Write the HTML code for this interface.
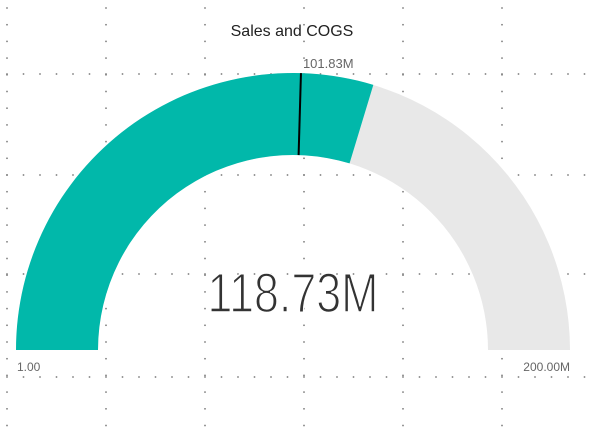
<!DOCTYPE html>
<html><head><meta charset="utf-8"><style>
html,body{margin:0;padding:0;background:#fff;}
svg{display:block;font-family:"Liberation Sans",sans-serif;}
</style></head><body>
<svg id="chart" width="591" height="430">
<g id="grid"></g>
<text x="292" y="36" text-anchor="middle" font-size="16" fill="#222">Sales and COGS</text>
<g id="gauge"></g>
</svg>
<script>
const minValue = [1];
const maxValue = [200000000];
const actualValue = [118730000];
const targetValue = [101830000];
const labels = ["1.00", "200.00M", "101.83M", "118.73M"];

const NS = "http://www.w3.org/2000/svg";
const cx = 293, cy = 350, R = 277, r = 195;
function ang(v){ return Math.PI * (1 - (v - minValue[0]) / (maxValue[0] - minValue[0])); }
function pt(a, rad){ return [cx + rad*Math.cos(a), cy - rad*Math.sin(a)]; }
function arcPath(v0, v1){
  const a0 = ang(v0), a1 = ang(v1);
  const p0 = pt(a0,R), p1 = pt(a1,R), p2 = pt(a1,r), p3 = pt(a0,r);
  return `M${p0}L${p0}A${R},${R} 0 0 1 ${p1}L${p2}A${r},${r} 0 0 0 ${p3}Z`;
}
function mk(tag, attrs, parent){
  const e = document.createElementNS(NS, tag);
  for (const k in attrs) e.setAttribute(k, attrs[k]);
  parent.appendChild(e); return e;
}
// grid
const grid = document.getElementById('grid');
const vx = [7,106,205,304,403,502], hy = [74,175,274,377];
for (const x of vx) for (let y = 8; y < 430; y += 16.7) mk('rect',{x:x-0.75,y:y-0.75,width:1.5,height:1.5,fill:'#777'},grid);
for (const y of hy) for (let x = 7; x < 591; x += 16.5) mk('rect',{x:x-0.75,y:y-0.75,width:1.5,height:1.5,fill:'#777'},grid);

const g = document.getElementById('gauge');
const bg = mk('path',{d:arcPath(minValue[0],maxValue[0]),fill:'#e8e8e8'},g);


const fg = mk('path',{d:arcPath(minValue[0],actualValue[0]),fill:'#01b8aa'},g);


const ta = ang(targetValue[0]); const t0 = pt(ta,R), t1 = pt(ta,r);
const tl = mk('line',{x1:t0[0],y1:t0[1],x2:t1[0],y2:t1[1],stroke:'#000','stroke-width':2},g);



function txt(s, x, y, size, fill, anchor, name, extra){
  const e = mk('text',Object.assign({x:x,y:y,'font-size':size,fill:fill,'text-anchor':anchor},extra||{}),g);
  e.textContent = s;
  
  
  return e;
}
txt(labels[0], 17, 371, 12, '#666', 'start', 'min-label');
txt(labels[1], 570, 371, 12, '#666', 'end', 'max-label');
txt(labels[2], t0[0]+2, 68, 13, '#666', 'start', 'target-label');
txt(labels[3], 293, 312, 56, '#333', 'middle', 'value-label', {textLength:171, lengthAdjust:'spacingAndGlyphs', stroke:'#fff', 'stroke-width':1.6});
</script>
</body></html>
